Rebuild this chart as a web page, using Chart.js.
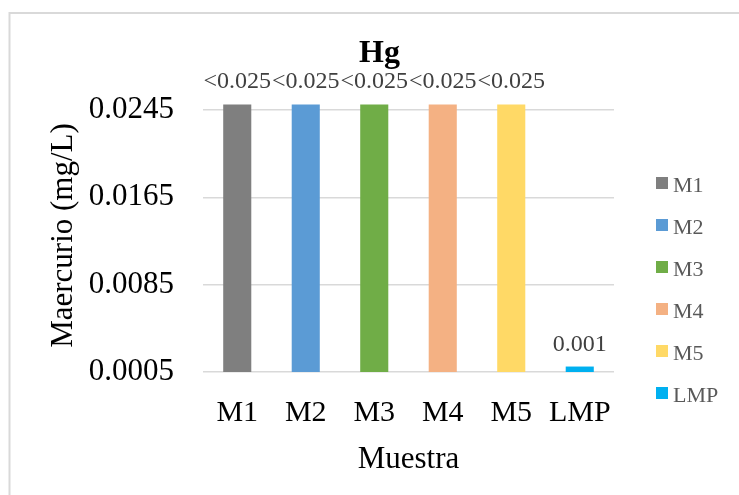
<!DOCTYPE html>
<html>
<head>
<meta charset="utf-8">
<script src="https://cdn.jsdelivr.net/npm/chart.js@4/dist/chart.umd.min.js"></script>
<style>
  html, body { margin: 0; padding: 0; background: #fff; }
  #wrap { position: relative; width: 739px; height: 495px; }
</style>
</head>
<body>
<div id="wrap"><canvas id="hgChart" width="739" height="495"></canvas></div>
<script>
// mercury results per sample, LMP = permitted limit
var muestras = ["M1", "M2", "M3", "M4", "M5", "LMP"];
var mercurio = [0.025, 0.025, 0.025, 0.025, 0.025, 0.001];
var etiquetas = ["<0.025", "<0.025", "<0.025", "<0.025", "<0.025", "0.001"];
var colores = ["#7f7f7f", "#5b9bd5", "#70ad47", "#f4b183", "#ffd966", "#00b0f0"];
var yTicks = [0.0005, 0.0085, 0.0165, 0.0245];

var serif = "'Liberation Serif', 'Times New Roman', serif";

// border, title, value labels and legend drawn on top of the chart
var decor = {
    id: 'decor',
    beforeDraw: function(chart) {
        var ctx = chart.ctx;
        ctx.save();
        ctx.strokeStyle = '#d9d9d9';
        ctx.lineWidth = 2;
        ctx.strokeRect(9.5, 13, 760, 520);
        ctx.restore();
    },
    afterDraw: function(chart) {
        var ctx = chart.ctx;
        ctx.save();

        ctx.fillStyle = '#000';
        ctx.font = 'bold 32px ' + serif;
        ctx.textAlign = 'center';
        ctx.textBaseline = 'alphabetic';
        ctx.fillText('Hg', 379.5, 62);

        var meta = chart.getDatasetMeta(0);
        ctx.font = '24px ' + serif;
        ctx.fillStyle = '#404040';
        meta.data.forEach(function(bar, i) {
            ctx.fillText(etiquetas[i], bar.x, bar.y - 16);
        });

        ctx.font = '22px ' + serif;
        ctx.textAlign = 'left';
        muestras.forEach(function(m, i) {
            var base = 192 + i * 42;
            ctx.fillStyle = colores[i];
            ctx.fillRect(656, base - 15, 12, 12);
            ctx.fillStyle = '#595959';
            ctx.fillText(m, 673, base);
        });
        ctx.restore();
    }
};

new Chart(document.getElementById('hgChart'), {
    type: 'bar',
    data: {
        labels: muestras,
        datasets: [{
            label: 'Hg',
            data: mercurio,
            backgroundColor: colores,
            borderWidth: 0,
            barPercentage: 0.41,
            categoryPercentage: 1
        }]
    },
    options: {
        responsive: false,
        animation: false,
        layout: { padding: { left: 20, right: 125, top: 99, bottom: 0 } },
        plugins: {
            legend: { display: false },
            title: { display: false },
            tooltip: { enabled: false }
        },
        scales: {
            x: {
                grid: { display: false },
                border: { display: false },
                ticks: { color: '#000', padding: 15, font: { family: serif, size: 30 } },
                title: {
                    display: true,
                    text: 'Muestra',
                    color: '#000',
                    padding: { top: 0, bottom: 17 },
                    font: { family: serif, size: 31 }
                },
                afterFit: function(scale) { scale.height = 123; }
            },
            y: {
                min: 0.0005,
                max: 0.0255,
                afterBuildTicks: function(scale) {
                    scale.ticks = yTicks.map(function(v) { return { value: v }; });
                },
                grid: { color: '#d9d9d9', lineWidth: 1.5, drawTicks: false },
                border: { display: false },
                ticks: {
                    color: '#000',
                    padding: 29,
                    font: { family: serif, size: 31 },
                    callback: function(v) { return Number(v).toFixed(4); }
                },
                title: {
                    display: true,
                    text: 'Maercurio (mg/L)',
                    color: '#000',
                    padding: { top: 25, bottom: 0 },
                    font: { family: serif, size: 31 }
                },
                afterFit: function(scale) { scale.width = 183; }
            }
        }
    },
    plugins: [decor]
});
</script>
</body>
</html>
